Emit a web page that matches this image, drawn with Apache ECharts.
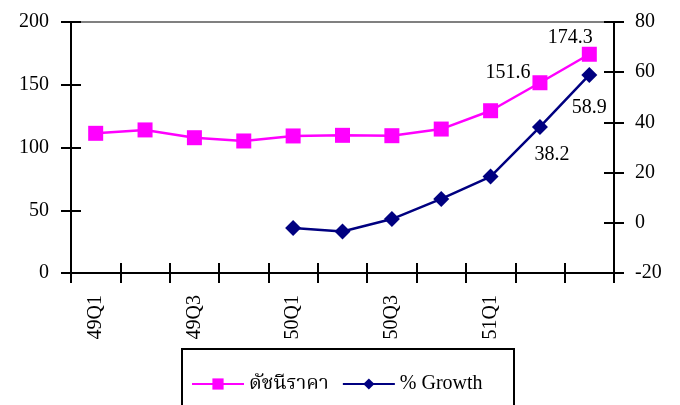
<!DOCTYPE html>
<html>
<head>
<meta charset="utf-8">
<script src="https://cdn.jsdelivr.net/npm/echarts@6/dist/echarts.min.js"></script>
<style>
  html, body { margin: 0; padding: 0; background: #fff; }
  #chart { width: 680px; height: 405px; }
</style>
</head>
<body>
<div id="chart"></div>
<script>
// Quarterly price index (left axis) and year-on-year growth in % (right axis)
const quarters = ['49Q1', '49Q2', '49Q3', '49Q4', '50Q1', '50Q2', '50Q3', '50Q4', '51Q1', '51Q2', '51Q3'];
const priceIndex = [111.3, 114.0, 107.8, 105.2, 109.2, 109.7, 109.4, 114.7, 129.3, 151.6, 174.3];
const growth = [null, null, null, null, -2.1, -3.5, 1.5, 9.5, 18.4, 38.2, 58.9];
const leftTicks = [0, 50, 100, 150, 200];
const rightTicks = [-20, 0, 20, 40, 60, 80];
const seriesNames = ['ดัชนีราคา', '% Growth'];

// Points that carry a value label, with label placement offsets
const priceLabelAt = { 9: [-32, -10], 10: [-19, -17] };
const growthLabelAt = { 9: [12, 28], 10: [0, 33] };

const FONT = '"Liberation Serif", "Noto Serif Thai", "Noto Sans Thai", "Tlwg Typo", serif';
const axisText = { color: '#000', fontFamily: FONT, fontSize: 20 };
const blackLine = { show: true, onZero: false, lineStyle: { color: '#000', width: 2 } };
const tickStyle = { color: '#000', width: 2 };

function withLabels(values, labelAt) {
  return values.map((v, i) => {
    if (labelAt[i] === undefined || v === null) return v;
    return {
      value: v,
      label: {
        show: true, position: 'inside', offset: labelAt[i],
        formatter: String(v), color: '#000', fontFamily: FONT, fontSize: 20
      }
    };
  });
}

const chart = echarts.init(document.getElementById('chart'), null, { renderer: 'canvas' });

// Category axis: one copy draws the outward tick half and the labels,
// a second copy draws the inward tick half, a third gives the grey top edge.
function xAxisCopy(extra) {
  return Object.assign({
    type: 'category', data: quarters, boundaryGap: true, position: 'bottom',
    axisLine: blackLine,
    axisTick: { show: true, inside: false, length: 10, interval: 0, lineStyle: tickStyle },
    axisLabel: { show: false },
    splitLine: { show: false }
  }, extra);
}

// Value axes likewise come in pairs so each tick crosses the axis line.
function yAxisCopy(ticks, position, extra) {
  return Object.assign({
    type: 'value', position: position,
    min: ticks[0], max: ticks[ticks.length - 1], interval: ticks[1] - ticks[0],
    axisLine: blackLine,
    axisTick: { show: true, inside: false, length: 10, lineStyle: tickStyle },
    axisLabel: { show: false },
    splitLine: { show: false }
  }, extra);
}

chart.setOption({
  animation: false,
  backgroundColor: '#fff',
  grid: { left: 71, right: 66, top: 22, bottom: 132, containLabel: false },
  graphic: [{
    type: 'rect', left: 181, top: 348, silent: true,
    shape: { width: 332, height: 70 },
    style: { fill: '#fff', stroke: '#000', lineWidth: 2 }
  }],
  legend: {
    data: seriesNames,
    left: 186, top: 369,
    itemWidth: 52, itemHeight: 14, itemGap: 13,
    textStyle: { color: '#000', fontFamily: FONT, fontSize: 20 }
  },
  xAxis: [
    xAxisCopy({
      axisLabel: Object.assign({}, axisText, {
        show: true, rotate: 90, margin: 22,
        interval: (i) => i % 2 === 0 && i < quarters.length - 1
      })
    }),
    xAxisCopy({
      axisTick: { show: true, inside: true, length: 10, interval: 0, lineStyle: tickStyle }
    }),
    xAxisCopy({
      position: 'top',
      axisLine: { show: true, onZero: false, lineStyle: { color: '#808080', width: 2 } },
      axisTick: { show: false }
    })
  ],
  yAxis: [
    yAxisCopy(leftTicks, 'left', { axisLabel: Object.assign({}, axisText, { show: true, margin: 22 }) }),
    yAxisCopy(rightTicks, 'right', { axisLabel: Object.assign({}, axisText, { show: true, margin: 21 }) }),
    yAxisCopy(leftTicks, 'left', { axisTick: { show: true, inside: true, length: 10, lineStyle: tickStyle } }),
    yAxisCopy(rightTicks, 'right', { axisTick: { show: true, inside: true, length: 10, lineStyle: tickStyle } })
  ],
  series: [
    {
      name: seriesNames[0], type: 'line', xAxisIndex: 0, yAxisIndex: 0,
      data: withLabels(priceIndex, priceLabelAt),
      symbol: 'rect', symbolSize: 15,
      itemStyle: { color: '#FF00FF' },
      lineStyle: { color: '#FF00FF', width: 2.5 },
      z: 3
    },
    {
      name: seriesNames[1], type: 'line', xAxisIndex: 0, yAxisIndex: 1,
      data: withLabels(growth, growthLabelAt),
      symbol: 'diamond', symbolSize: 16,
      itemStyle: { color: '#000080' },
      lineStyle: { color: '#000080', width: 2.5 },
      connectNulls: false,
      z: 4
    }
  ]
});
</script>
</body>
</html>
